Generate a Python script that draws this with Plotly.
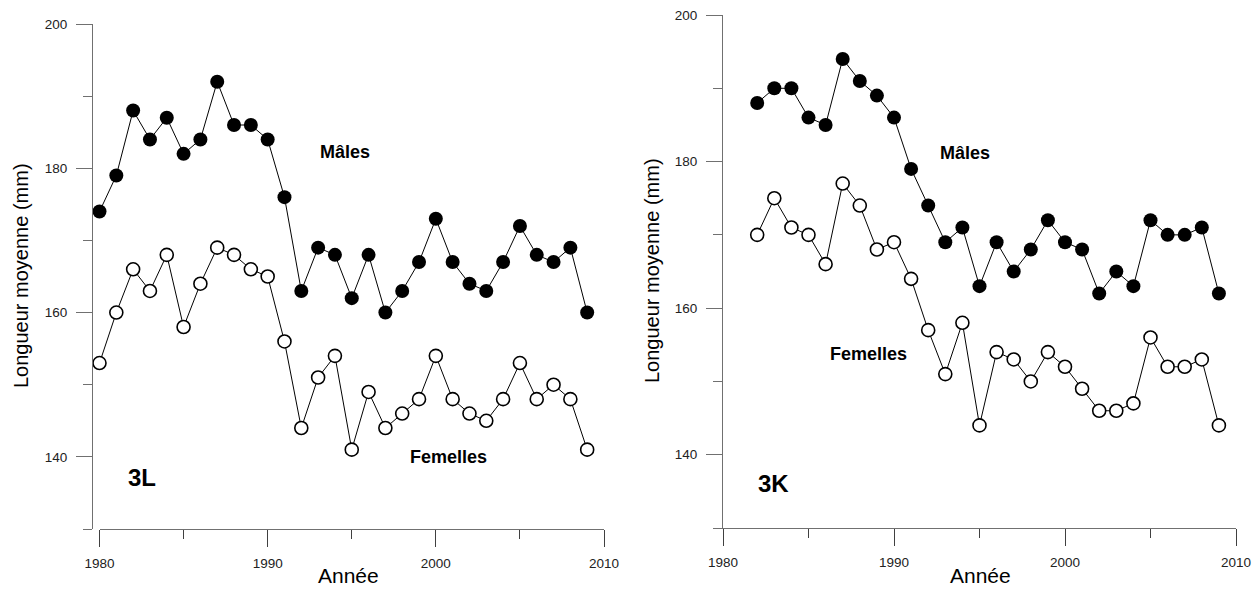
import plotly.graph_objects as go

# ---- data ----
years_3L = list(range(1980, 2010))
males_3L = [174, 179, 188, 184, 187, 182, 184, 192, 186, 186, 184, 176, 163, 169, 168,
            162, 168, 160, 163, 167, 173, 167, 164, 163, 167, 172, 168, 167, 169, 160]
females_3L = [153, 160, 166, 163, 168, 158, 164, 169, 168, 166, 165, 156, 144, 151, 154,
              141, 149, 144, 146, 148, 154, 148, 146, 145, 148, 153, 148, 150, 148, 141]

years_3K = list(range(1982, 2010))
males_3K = [188, 190, 190, 186, 185, 194, 191, 189, 186, 179, 174, 169, 171, 163, 169,
            165, 168, 172, 169, 168, 162, 165, 163, 172, 170, 170, 171, 162]
females_3K = [170, 175, 171, 170, 166, 177, 174, 168, 169, 164, 157, 151, 158, 144, 154,
              153, 150, 154, 152, 149, 146, 146, 147, 156, 152, 152, 153, 144]

x_ticks = [1980, 1990, 2000, 2010]
x_minor = [1985, 1995, 2005]
y_ticks = [140, 160, 180, 200]
y_minor = [130, 150, 170, 190]

W, H = 1255, 590
FONT = "Arial, Liberation Sans, Helvetica, sans-serif"
AX = "#707070"
TK = "#404040"

def px(x):
    return x / W

def py(y):
    return 1 - y / H

fig = go.Figure()

def add_panel(years, m, f, xa, ya):
    fig.add_trace(go.Scatter(x=years, y=m, mode="lines+markers", xaxis=xa, yaxis=ya,
                             cliponaxis=False,
                             line=dict(color="black", width=1),
                             marker=dict(symbol="circle", size=14, color="black",
                                         line=dict(color="black", width=0)),
                             showlegend=False))
    fig.add_trace(go.Scatter(x=years, y=f, mode="lines+markers", xaxis=xa, yaxis=ya,
                             cliponaxis=False,
                             line=dict(color="black", width=1),
                             marker=dict(symbol="circle", size=13, color="white",
                                         line=dict(color="black", width=1.6)),
                             showlegend=False))

add_panel(years_3L, males_3L, females_3L, "x", "y")
add_panel(years_3K, males_3K, females_3K, "x2", "y2")

def xaxis_cfg(domain, anchor):
    return dict(domain=domain, range=[1980, 2010], anchor=anchor, automargin=False,
                showgrid=False, zeroline=False,
                showline=True, linecolor=AX, linewidth=1.2,
                tickmode="array", tickvals=x_ticks, ticks="outside", ticklen=17,
                tickcolor=TK, tickwidth=1.2,
                minor=dict(tickmode="array", tickvals=x_minor, ticks="outside",
                           ticklen=9, tickcolor=TK, tickwidth=1.2),
                tickfont=dict(family=FONT, size=13.5, color="#222"),
                ticklabelstandoff=5)

def yaxis_cfg(domain, anchor=None, position=None):
    d = dict(domain=domain, range=[130, 200], automargin=False, showgrid=False,
             zeroline=False, showline=True, linecolor=AX, linewidth=1.2,
             tickmode="array", tickvals=y_ticks, ticks="outside", ticklen=16,
             tickcolor=AX, tickwidth=1.2,
             minor=dict(tickmode="array", tickvals=y_minor, ticks="outside",
                        ticklen=9, tickcolor=AX, tickwidth=1.2),
             tickfont=dict(family=FONT, size=13.5, color="#222"),
             ticklabelstandoff=6)
    if position is not None:
        d["anchor"] = "free"
        d["position"] = position
    else:
        d["anchor"] = anchor
    return d

fig.update_layout(
    template="none",
    width=W, height=H, margin=dict(l=0, r=0, t=0, b=0, pad=0),
    paper_bgcolor="white", plot_bgcolor="white",
    xaxis=xaxis_cfg([px(99.5), px(604)], "y"),
    yaxis=yaxis_cfg([1 - 529 / H, 1 - 24 / H], position=px(92)),
    xaxis2=xaxis_cfg([px(723), px(1236)], "y2"),
    yaxis2=yaxis_cfg([1 - 528 / H, 1 - 15 / H], anchor="x2"),
)

def ann(text, x, y, size, bold=False, angle=0):
    fig.add_annotation(text=f"<b>{text}</b>" if bold else text, xref="paper", yref="paper",
                       x=px(x), y=py(y), xanchor="center", yanchor="middle",
                       showarrow=False, textangle=angle, borderpad=0,
                       font=dict(family=FONT, size=size, color="black"))

ann("Mâles", 345, 152, 18, True)
ann("Femelles", 448, 457, 18, True)
ann("3L", 142, 477, 24, True)
ann("Mâles", 965, 153, 18, True)
ann("Femelles", 868, 354, 18, True)
ann("3K", 773, 484, 24, True)
ann("Longueur moyenne (mm)", 21, 276, 20, False, -90)
ann("Longueur moyenne (mm)", 652, 271, 20, False, -90)
ann("Année", 348, 575, 21)
ann("Année", 980, 575, 21)

fig.write_html("out.html")
